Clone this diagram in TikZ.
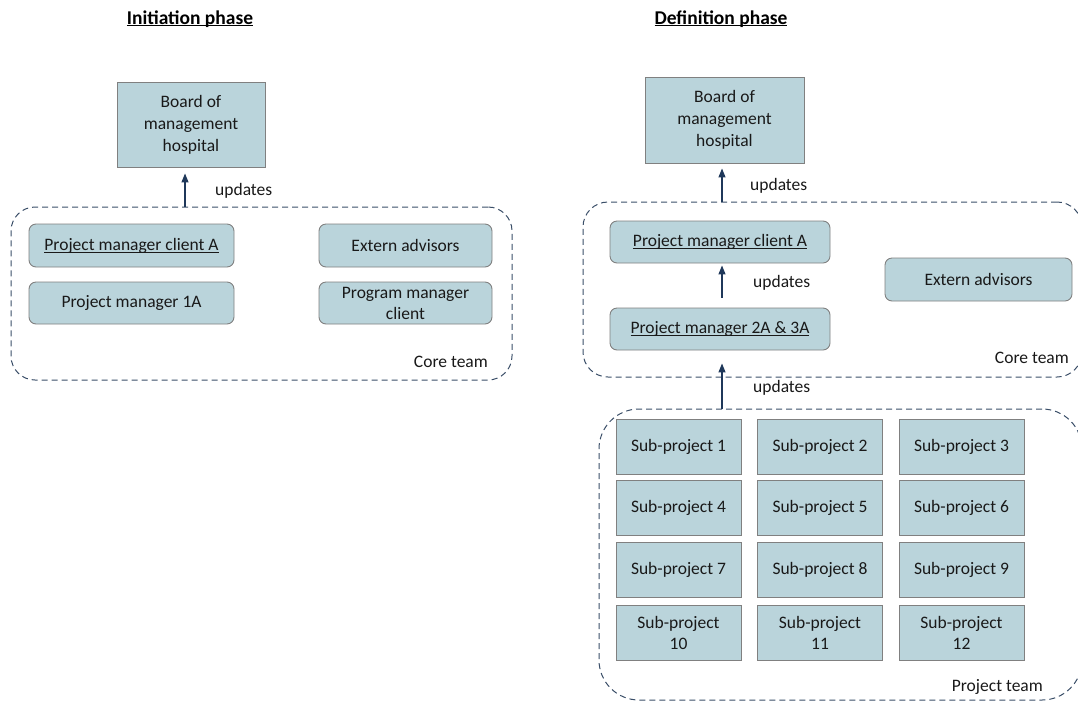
\documentclass[tikz,border=0pt]{standalone}
\usepackage{fontspec}
\setmainfont{Carlito}
\usetikzlibrary{arrows.meta}

\definecolor{boxfill}{RGB}{186,212,219}
\definecolor{boxline}{RGB}{128,128,128}
\definecolor{dashline}{RGB}{58,78,104}
\definecolor{arrowcol}{RGB}{31,56,90}
\definecolor{txt}{RGB}{25,25,25}

% underlined text with a fixed rule position
\newcommand\ulin[1]{\setbox0=\hbox{#1}\rlap{\rule[-0.15em]{\wd0}{0.06em}}\box0}
\newcommand\ulbold[1]{\setbox0=\hbox{#1}\rlap{\rule[-0.11em]{\wd0}{0.09em}}\box0}

\tikzset{
  every node/.style={font=\fontsize{17.5}{22}\selectfont, text=txt},
  sqbox/.style={draw=boxline, fill=boxfill, line width=0.9pt, align=center, inner sep=0pt},
  rbox/.style={sqbox, rounded corners=7pt},
  subbox/.style={sqbox, minimum width=125, minimum height=55},
  group/.style={draw=dashline, dash pattern=on 6pt off 4pt, line width=1pt},
  updarrow/.style={draw=arrowcol, line width=1.2pt, -{Triangle[length=9pt,width=7pt]}},
  lbl/.style={inner sep=0pt},
  title/.style={inner sep=0pt, text=black, font=\fontsize{19.5}{24}\selectfont\bfseries}
}

\begin{document}
\begin{tikzpicture}[x=1pt,y=-1pt]
\clip (0,0) rectangle (1078,702);

% ---------------- Initiation phase ----------------
\node[title] (title1) at (190,19) {\ulbold{Initiation phase}};

\node[sqbox, minimum width=148, minimum height=85] (board1) at (191,124.5)
  {Board of\\management\\hospital};

\node[group, rounded corners=24pt, minimum width=501, minimum height=173] (core1) at (261.5,293.5) {};

\node[rbox, minimum width=205, minimum height=43] (pmA1) at (131.5,245.5) {\ulin{Project manager client A}};
\node[rbox, minimum width=205, minimum height=42] (pm1A) at (131.5,303) {Project manager 1A};
\node[rbox, minimum width=173, minimum height=43] (ext1) at (405.5,245.5) {Extern advisors};
\node[rbox, minimum width=173, minimum height=42, font=\fontsize{17.5}{21}\selectfont] (prog1) at (405.5,303) {Program manager\\client};

\node[lbl, anchor=east] (corelbl1) at (488,362) {Core team};

\draw[updarrow] ([xshift=-6pt]board1.south |- core1.north) -- ([xshift=-6pt,yshift=-6pt]board1.south);
\node[lbl, anchor=west] (upd1) at (215,191) {updates};

% ---------------- Definition phase ----------------
\node[title] (title2) at (721,19) {\ulbold{Definition phase}};

\node[sqbox, minimum width=159, minimum height=86] (board2) at (724.5,120)
  {Board of\\management\\hospital};

\node[group, rounded corners=25pt, minimum width=499, minimum height=175] (core2) at (832.5,289.5) {};

\node[rbox, minimum width=220, minimum height=42] (pmA2) at (720,242) {\ulin{Project manager client A}};
\node[rbox, minimum width=220, minimum height=42] (pm23) at (720,329) {\ulin{Project manager 2A \& 3A}};
\node[rbox, minimum width=187, minimum height=43] (ext2) at (978.5,279.5) {Extern advisors};

\node[lbl, anchor=east] (corelbl2) at (1069,358) {Core team};

\node[group, rounded corners=40pt, minimum width=483, minimum height=291] (proj) at (840.5,554.5) {};
\node[lbl, anchor=east] (projlbl) at (1043,687) {Project team};

% sub-project grid
\node[subbox] (s1)  at (678.5,446.5) {Sub-project 1};
\node[subbox] (s2)  at (820,446.5)   {Sub-project 2};
\node[subbox] (s3)  at (961.5,446.5) {Sub-project 3};
\node[subbox] (s4)  at (678.5,508)   {Sub-project 4};
\node[subbox] (s5)  at (820,508)     {Sub-project 5};
\node[subbox] (s6)  at (961.5,508)   {Sub-project 6};
\node[subbox] (s7)  at (678.5,570)   {Sub-project 7};
\node[subbox] (s8)  at (820,570)     {Sub-project 8};
\node[subbox] (s9)  at (961.5,570)   {Sub-project 9};
\node[subbox, font=\fontsize{17.5}{21}\selectfont] (s10) at (678.5,633) {Sub-project\\10};
\node[subbox, font=\fontsize{17.5}{21}\selectfont] (s11) at (820,633)   {Sub-project\\11};
\node[subbox, font=\fontsize{17.5}{21}\selectfont] (s12) at (961.5,633) {Sub-project\\12};

% reporting lines
\draw[updarrow] ([xshift=2pt]pmA2.south |- core2.north) -- ([xshift=2pt,yshift=-5pt]pmA2.south |- board2.south);
\node[lbl, anchor=west] (upd2) at (750,186) {updates};

\draw[updarrow] ([xshift=2pt,yshift=10pt]pm23.north) -- ([xshift=2pt,yshift=-2pt]pmA2.south);
\node[lbl, anchor=west] (upd3) at (753,283) {updates};

\draw[updarrow] ([xshift=2pt]pm23.south |- proj.north) -- ([xshift=2pt,yshift=-13pt]pm23.south);
\node[lbl, anchor=west] (upd4) at (753,388) {updates};

\end{tikzpicture}
\end{document}
